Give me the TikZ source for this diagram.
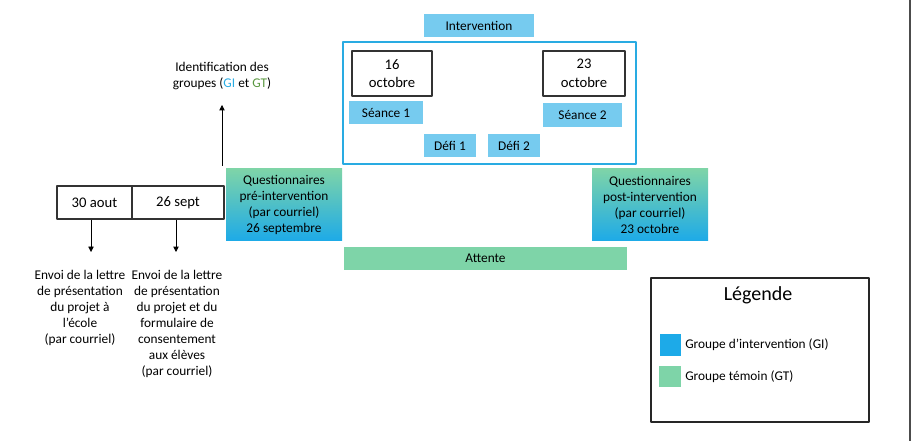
\documentclass[tikz,border=0pt]{standalone}
\usepackage{fontspec}
\setmainfont{Carlito}
\usepackage{tikz}
\usetikzlibrary{arrows.meta, positioning, calc}

\definecolor{ciel}{RGB}{118,203,239}
\definecolor{cadre}{RGB}{41,171,226}
\definecolor{vert}{RGB}{126,212,168}
\definecolor{bleuGI}{RGB}{29,170,232}
\definecolor{vertGT}{RGB}{88,150,62}

\newcommand{\px}{0.75pt}

\tikzset{
    bloc/.style={fill=ciel, inner sep=0pt, align=center, font=\fontsize{10}{12}\selectfont},
    datebox/.style={draw=black!80, line width=0.9pt, inner sep=0pt, align=center,
                    font=\fontsize{11}{14}\selectfont},
    questbox/.style={top color=vert, bottom color=bleuGI, inner sep=0pt, align=center,
                     minimum width=116*\px, minimum height=72*\px, font=\fontsize{10}{12}\selectfont},
    note/.style={align=center, inner sep=0pt, font=\fontsize{10}{12}\selectfont},
    fleche/.style={-{Triangle[length=4pt, width=4pt]}, line width=0.6pt}
}

\begin{document}
\begin{tikzpicture}[x=\px, y=-\px, line join=round]
        \useasboundingbox (0,0) rectangle (916,441);
        \draw[black!70, line width=1pt] (910,0) -- (910,441);
        % intervention
        \node[bloc, minimum width=110*\px, minimum height=23*\px] (interv) at (479,25.5) {Intervention};
        \node[draw=cadre, line width=1.6pt, minimum width=293*\px, minimum height=122*\px, inner sep=0pt]
            (frame) at (489.5,103) {};
        \node[datebox, minimum width=80*\px, minimum height=45*\px] (d16) at (392,73.5) {16\\octobre};
        \node[datebox, minimum width=82*\px, minimum height=45*\px] (d23) at (584,73.5) {23\\octobre};
        \node[bloc, minimum width=74*\px, minimum height=23*\px] (s1) at (386,112.5) {Séance 1};
        \node[bloc, minimum width=79*\px, minimum height=24*\px] (s2) at (582.5,115) {Séance 2};
        \node[bloc, minimum width=52*\px, minimum height=23*\px] (defi1) at (450,145.5) {Défi 1};
        \node[bloc, minimum width=52*\px, minimum height=23*\px] (defi2) at (514,145.5) {Défi 2};
        % questionnaires et attente
        \node[questbox] (qpre) at (284,205) {Questionnaires\\pré-intervention\\(par courriel)\\26 septembre};
        \node[questbox] (qpost) at (650,205) {Questionnaires\\post-intervention\\(par courriel)\\23 octobre};
        \node[bloc, fill=vert, minimum width=283*\px, minimum height=23*\px] (attente) at (485.5,258.5) {Attente};
        % identification
        \node[note] (ident) at (222,76)
            {Identification des\\groupes ({\color{cadre}GI} et {\color{vertGT}GT})};
        \coordinate (idbas) at (222,166);
        \coordinate (idhaut) at (222,105);
        \draw[fleche] (idbas) -- (idhaut);
        % dates
        \node[datebox, minimum width=75*\px, minimum height=33*\px] (aout) at (94.5,202.5) {30 aout};
        \node[datebox, minimum width=92*\px, minimum height=33*\px, right=-0.9pt of aout] (sept) {26 sept};
        \coordinate (e1) at (91,252);
        \coordinate (e2) at (176,252);
        \draw[fleche, line width=0.4pt] (aout.south -| e1) -- (e1);
        \draw[fleche] (sept.south -| e2) -- (e2);
        \node[note, anchor=north] (envoi1) at (80,270)
            {Envoi de la lettre\\de présentation\\du projet à\\l’école\\(par courriel)};
        \node[note, anchor=north] (envoi2) at (177,270)
            {Envoi de la lettre\\de présentation\\du projet et du\\formulaire de\\consentement\\aux élèves\\(par courriel)};
        % legende
        \node[draw=black!85, line width=0.9pt, minimum width=218*\px, minimum height=144*\px, inner sep=0pt]
            (leg) at (760,350) {};
        \node[font=\fontsize{15}{18}\selectfont] (legtitre) at (758,295) {Légende};
        \node[fill=bleuGI, minimum width=21*\px, minimum height=22*\px, inner sep=0pt] (carGI) at (670.5,345) {};
        \node[fill=vert, minimum width=22*\px, minimum height=21*\px, inner sep=0pt] (carGT) at (670,376.5) {};
        \node[note, anchor=west] (txtGI) at (685,345) {Groupe d’intervention (GI)};
        \node[note, anchor=west] (txtGT) at (685,377) {Groupe témoin (GT)};
    \end{tikzpicture}
\end{document}
